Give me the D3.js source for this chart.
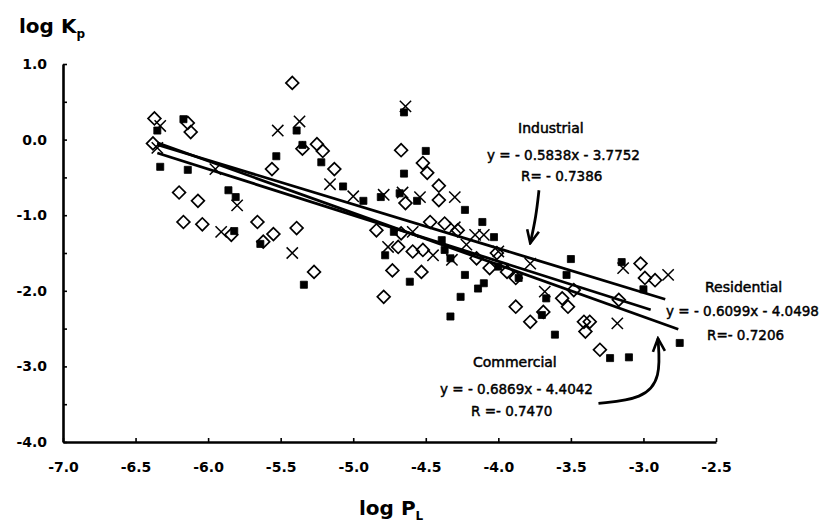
<!DOCTYPE html>
<meta charset="utf-8">
<style>
  body { margin: 0; background: #fff; }
  svg { display: block; }
  .tick text { font: bold 14px "DejaVu Sans", sans-serif; fill: #000; }
  .axis path.domain { stroke: #000; stroke-width: 2.6; }
  .axis .tick line { stroke: #000; stroke-width: 1.6; }
  .title { font: bold 20px "DejaVu Sans", sans-serif; }
  .note { font: 14px "DejaVu Sans", sans-serif; stroke: #000; stroke-width: 0.5; }
  .eq { font: 13.5px "DejaVu Sans", sans-serif; stroke: #000; stroke-width: 0.45; }
</style>
<svg width="824" height="524"></svg>
<script src="https://d3js.org/d3.v7.min.js"></script>
<script>
  // diamonds
  var residential = [
    [-5.42, 0.75], [-6.37, 0.28], [-6.14, 0.22], [-6.12, 0.10], [-6.38, -0.05], [-5.56, -0.39], [-5.35, -0.12],
    [-5.25, -0.06], [-5.21, -0.15], [-5.13, -0.39], [-6.20, -0.70], [-6.07, -0.81], [-6.17, -1.09], [-6.04, -1.12],
    [-5.84, -1.26], [-5.66, -1.09], [-5.62, -1.35], [-5.55, -1.25], [-5.39, -1.17], [-5.27, -1.75], [-4.67, -0.14],
    [-4.52, -0.31], [-4.49, -0.44], [-4.64, -0.84], [-4.41, -0.61], [-4.41, -0.80], [-4.84, -1.20], [-4.69, -1.42],
    [-4.59, -1.48], [-4.52, -1.46], [-4.47, -1.09], [-4.37, -1.11], [-4.28, -1.20], [-4.15, -1.57], [-4.06, -1.70],
    [-4.73, -1.73], [-4.53, -1.75], [-4.79, -2.08], [-4.01, -1.50], [-3.94, -1.75], [-3.88, -1.83], [-3.88, -2.21],
    [-3.78, -2.41], [-3.69, -2.28], [-3.56, -2.10], [-3.52, -2.21], [-3.48, -1.99], [-3.41, -2.41], [-3.37, -2.41],
    [-3.40, -2.54], [-3.30, -2.78], [-3.17, -2.12], [-3.02, -1.64], [-2.99, -1.83], [-2.92, -1.86], [-4.67, -1.24]
  ];

  // filled squares
  var commercial = [
    [-6.35, 0.12], [-6.17, 0.27], [-6.33, -0.36], [-6.14, -0.40], [-5.53, -0.22], [-5.39, 0.12], [-5.35, -0.07],
    [-5.22, -0.30], [-5.07, -0.62], [-5.86, -0.67], [-5.81, -0.76], [-5.82, -1.21], [-5.64, -1.38], [-5.34, -1.92],
    [-4.93, -0.81], [-4.65, 0.36], [-4.50, -0.15], [-4.65, -0.45], [-4.81, -0.76], [-4.68, -0.71], [-4.56, -0.81],
    [-4.23, -0.93], [-4.11, -1.09], [-4.03, -1.29], [-4.72, -1.22], [-4.78, -1.53], [-4.39, -1.33], [-4.37, -1.46],
    [-4.33, -1.57], [-4.00, -1.68], [-4.61, -1.88], [-4.23, -1.79], [-4.10, -1.90], [-4.14, -1.97], [-4.26, -2.08],
    [-4.33, -2.34], [-3.50, -1.58], [-3.53, -1.79], [-3.67, -2.10], [-3.70, -2.32], [-3.86, -1.83], [-3.61, -2.58],
    [-3.23, -2.89], [-3.10, -2.88], [-2.75, -2.69], [-3.15, -1.62], [-3.00, -1.98]
  ];

  // crosses
  var industrial = [
    [-6.33, 0.18], [-6.35, -0.11], [-5.95, -0.39], [-5.52, 0.12], [-5.37, 0.24], [-5.16, -0.59], [-5.80, -0.87],
    [-5.91, -1.22], [-5.42, -1.50], [-5.00, -0.75], [-4.79, -0.73], [-4.64, 0.44], [-4.54, -0.76], [-4.30, -0.76],
    [-4.59, -1.22], [-4.76, -1.42], [-4.45, -1.53], [-4.32, -1.59], [-4.22, -1.39], [-4.16, -1.26], [-4.10, -1.26],
    [-4.30, -1.16], [-4.00, -1.48], [-3.78, -1.64], [-3.68, -2.01], [-3.14, -1.70], [-2.83, -1.79], [-3.18, -2.43],
    [-4.66, -0.70]
  ];

  // regression lines
  var fitNames = ["Industrial", "Residential", "Commercial"];
  var fitSlope = [-0.5838, -0.6099, -0.6869];
  var fitIntercept = [-3.7752, -4.0498, -4.4042];
  var fitFrom = [-6.35, -6.35, -6.35];
  var fitTo = [-2.85, -2.95, -2.76];
  var fitR = ["R= - 0.7386", "R=- 0.7206", "R =- 0.7470"];

  var xTicks = [-7.0, -6.5, -6.0, -5.5, -5.0, -4.5, -4.0, -3.5, -3.0, -2.5];
  var xTickLabels = ["-7.0", "-6.5", "-6.0", "-5.5", "-5.0", "-4.5", "-4.0", "-3.5", "-3.0", "-2.5"];
  var yTicks = [1.0, 0.5, 0.0, -0.5, -1.0, -1.5, -2.0, -2.5, -3.0, -3.5, -4.0];
  var yTickLabels = ["1.0", "", "0.0", "", "-1.0", "", "-2.0", "", "-3.0", "", "-4.0"];

  var svg = d3.select("svg");

  var x = d3.scaleLinear().domain([-7, -2.5]).range([63, 716]);
  var y = d3.scaleLinear().domain([-4, 1]).range([442, 64]);

  // axes
  var xAxis = d3.axisBottom(x)
    .tickValues(xTicks)
    .tickSize(-4)
    .tickSizeOuter(0)
    .tickPadding(20)
    .tickFormat(function(d, i) { return xTickLabels[i]; });

  var yAxis = d3.axisLeft(y)
    .tickValues(yTicks)
    .tickSize(-4)
    .tickSizeOuter(0)
    .tickPadding(16)
    .tickFormat(function(d, i) { return yTickLabels[i]; });

  svg.append("g")
    .attr("class", "axis")
    .attr("transform", "translate(0," + y(-4) + ")")
    .call(xAxis);

  svg.append("g")
    .attr("class", "axis")
    .attr("transform", "translate(" + x(-7) + ",0)")
    .call(yAxis);

  svg.selectAll(".axis text").attr("font-family", null).attr("font-size", null);

  // points
  var g = svg.append("g");

  g.selectAll(".res")
    .data(residential)
    .enter().append("path")
    .attr("class", "res")
    .attr("d", d3.symbol(d3.symbolSquare, 82))
    .attr("transform", function(d) { return "translate(" + x(d[0]) + "," + y(d[1]) + ") rotate(45)"; })
    .attr("fill", "none")
    .attr("stroke", "#000")
    .attr("stroke-width", 1.7);

  g.selectAll(".com")
    .data(commercial)
    .enter().append("path")
    .attr("class", "com")
    .attr("d", d3.symbol(d3.symbolSquare, 50))
    .attr("transform", function(d) { return "translate(" + x(d[0]) + "," + y(d[1]) + ")"; })
    .attr("fill", "#000")
    .attr("stroke", "#000")
    .attr("stroke-width", 0.8)
    .attr("stroke-linejoin", "round");

  g.selectAll(".ind")
    .data(industrial)
    .enter().append("path")
    .attr("class", "ind")
    .attr("d", d3.symbol(d3.symbolTimes, 85))
    .attr("transform", function(d) { return "translate(" + x(d[0]) + "," + y(d[1]) + ")"; })
    .attr("fill", "none")
    .attr("stroke", "#000")
    .attr("stroke-width", 1.5);

  // fit lines
  var line = d3.line()
    .x(function(d) { return x(d[0]); })
    .y(function(d) { return y(d[1]); });

  fitNames.forEach(function(name, i) {
    var pts = [fitFrom[i], fitTo[i]].map(function(v) {
      return [v, fitSlope[i] * v + fitIntercept[i]];
    });
    svg.append("path")
      .attr("d", line(pts))
      .attr("fill", "none")
      .attr("stroke", "#000")
      .attr("stroke-width", 2.8);
  });

  // arrows
  svg.append("defs").append("marker")
    .attr("id", "head")
    .attr("markerUnits", "userSpaceOnUse")
    .attr("viewBox", "-14 -8 16 16")
    .attr("markerWidth", 16)
    .attr("markerHeight", 16)
    .attr("refX", 0)
    .attr("refY", 0)
    .attr("orient", "auto")
    .append("path")
    .attr("d", "M-13,-6L0,0L-13,6")
    .attr("fill", "none")
    .attr("stroke", "#000")
    .attr("stroke-width", 2.6);

  var curve = d3.line()
    .curve(d3.curveBasis)
    .x(function(d) { return x(d[0]); })
    .y(function(d) { return y(d[1]); });

  var arrowInd = [[-3.72, -0.67], [-3.74, -1.02], [-3.78, -1.37]];
  var arrowCom = [[-3.31, -3.49], [-3.00, -3.43], [-2.88, -3.15], [-2.90, -2.63]];

  [arrowInd, arrowCom].forEach(function(a) {
    svg.append("path")
      .attr("d", curve(a))
      .attr("fill", "none")
      .attr("stroke", "#000")
      .attr("stroke-width", 2.8)
      .attr("marker-end", "url(#head)");
  });

  // annotations
  function note(cls, tx, ty, str) {
    svg.append("text").attr("class", cls).attr("x", tx).attr("y", ty).text(str);
  }
  function eq(i) {
    return "y = - " + Math.abs(fitSlope[i]).toFixed(4) + "x - " + Math.abs(fitIntercept[i]).toFixed(4);
  }

  note("note", 518, 133, fitNames[0]);
  note("eq", 487, 160, eq(0));
  note("eq", 521, 181, fitR[0]);

  note("note", 705, 292, fitNames[1]);
  note("eq", 666, 316, eq(1));
  note("eq", 707, 340, fitR[1]);

  note("note", 473, 367, fitNames[2]);
  note("eq", 440, 394, eq(2));
  note("eq", 471, 416, fitR[2]);

  // axis titles
  var ky = svg.append("text").attr("class", "title").attr("x", 19).attr("y", 33);
  ky.append("tspan").text("log K");
  ky.append("tspan").attr("dy", 5).attr("font-size", 12).text("p");

  var px = svg.append("text").attr("class", "title").attr("x", 359).attr("y", 515);
  px.append("tspan").text("log P");
  px.append("tspan").attr("dy", 5).attr("font-size", 12).text("L");
</script>
